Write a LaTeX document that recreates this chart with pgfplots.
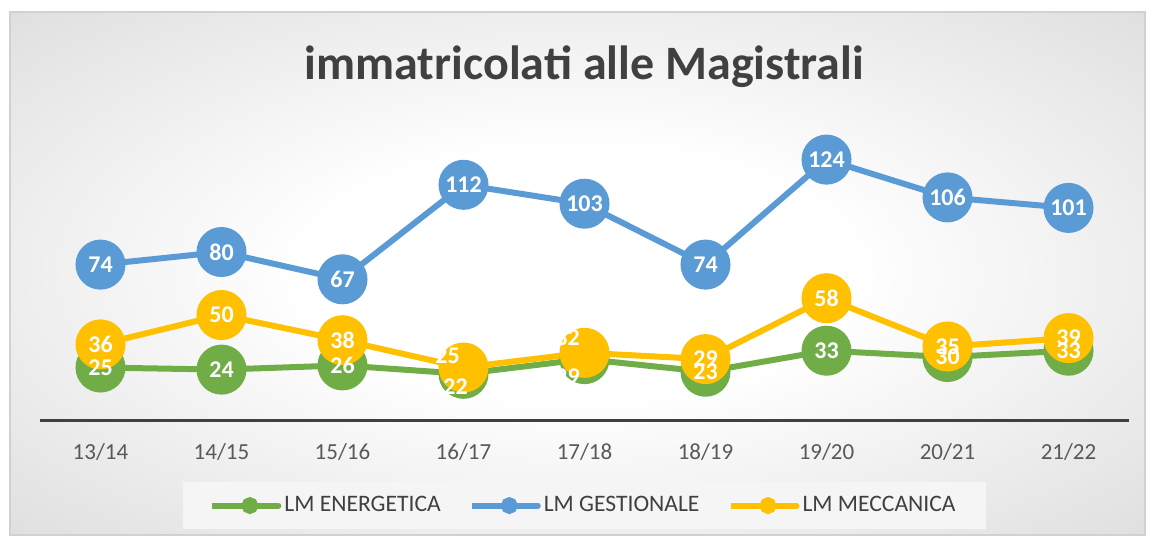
\documentclass[border=0pt]{standalone}
\usepackage{pgfplots}
\pgfplotsset{compat=1.18}
\usepackage{fontspec}
\setmainfont{Carlito}

\definecolor{cgreen}{HTML}{70AD47}
\definecolor{cblue}{HTML}{5B9BD5}
\definecolor{cyellow}{HTML}{FFC000}
\definecolor{txtdark}{HTML}{404040}
\definecolor{txtgray}{HTML}{595959}

\pgfdeclareradialshading{chartbg}{\pgfpoint{0bp}{0bp}}{%
  color(0bp)=(white); color(12bp)=(white); color(50bp)=(black!20); color(71bp)=(black!27)}

% values, plus label offsets (pt) where the labels were moved apart
\pgfplotstableread{
x  ene  ges  mec  dxe  dye   dxm  dym
0  25   74   36   0    0     0    0
1  24   80   50   0    0     0    0
2  26   67   38   0    0     0    0
3  22  112   25  -4   -6.5  -8    6
4  29  103   32  -8.5 -9    -8.5  7.5
5  23   74   29   0    0     0    0
6  33  124   58   0    0     0    0
7  30  106   35   0    0     0    0
8  33  101   39   0    0     0    0
}\datatable

\begin{document}
\begin{tikzpicture}
% page and chart area background
\fill[white] (-20pt,-59pt) rectangle (557pt,210pt);
\shade[shading=chartbg] (-15pt,-57.5pt) rectangle (552.5pt,204pt);
\draw[black!18, line width=0.6pt] (-15pt,-57.5pt) rectangle (552.5pt,204pt);

\begin{axis}[
    name=ax,
    at={(0,0)}, anchor=south west,
    scale only axis,
    width=544.5pt, height=147pt,
    xmin=-0.5, xmax=8.5,
    ymin=0, ymax=140,
    axis x line*=bottom,
    axis y line=none,
    x axis line style={line width=1.5pt, color=txtdark},
    xtick={0,...,8},
    xticklabels={13/14,14/15,15/16,16/17,17/18,18/19,19/20,20/21,21/22},
    xtick style={draw=none},
    xticklabel style={font=\fontsize{11.5}{12}\selectfont, text=txtgray, yshift=-8pt},
    ytick={20,40,...,140},
    ymajorgrids=true,
    grid style={line width=0.75pt, color=black!38},
    clip=false,
    /pgf/number format/assume math mode=true,
    title={immatricolati alle Magistrali},
    title style={at={(axis description cs:0.5,1)}, anchor=center, yshift=23.5pt,
        font=\bfseries\fontsize{24}{26}\selectfont, text=txtdark},
    every node near coord/.append style={anchor=center, text=white,
        font=\bfseries\fontsize{12}{12}\selectfont},
    legend columns=3,
    legend cell align=left,
    legend style={at={(axis description cs:0.5,0)}, anchor=north, yshift=-31pt,
        fill=black!4, draw=none, inner xsep=13pt, inner ysep=5pt,
        font=\fontsize{11.8}{13}\selectfont, text=txtdark,
        /tikz/every odd column/.append style={column sep=-0.5pt},
        /tikz/every even column/.append style={column sep=12pt}},
    legend image code/.code={
        \path (-4.5pt,0pt) -- (28.5pt,0pt);
        \draw[#1, line width=3pt, line cap=round] (0pt,0pt) -- (28.5pt,0pt);
        \fill[#1] (14.25pt,0pt) circle (2.7pt);
    },
    series/.style={color=#1, line width=3pt, mark=*, mark size=11pt,
        mark options={fill=#1, draw=#1}},
    labels/.style={draw=none, mark=none, nodes near coords, forget plot},
]
\addplot[series=cgreen] table[x=x, y=ene] {\datatable};
\addlegendentry{LM ENERGETICA}

\addplot[series=cblue] table[x=x, y=ges] {\datatable};
\addlegendentry{LM GESTIONALE}

\addplot[series=cyellow] table[x=x, y=mec] {\datatable};
\addlegendentry{LM MECCANICA}

% data labels drawn above all markers
\addplot[labels,
    visualization depends on={\thisrow{dxe} \as \dx},
    visualization depends on={\thisrow{dye} \as \dy},
    every node near coord/.append style={xshift=\dx pt, yshift=\dy pt}]
    table[x=x, y=ene] {\datatable};
\addplot[labels] table[x=x, y=ges] {\datatable};
\addplot[labels,
    visualization depends on={\thisrow{dxm} \as \dx},
    visualization depends on={\thisrow{dym} \as \dy},
    every node near coord/.append style={xshift=\dx pt, yshift=\dy pt}]
    table[x=x, y=mec] {\datatable};
\end{axis}
\end{tikzpicture}
\end{document}
